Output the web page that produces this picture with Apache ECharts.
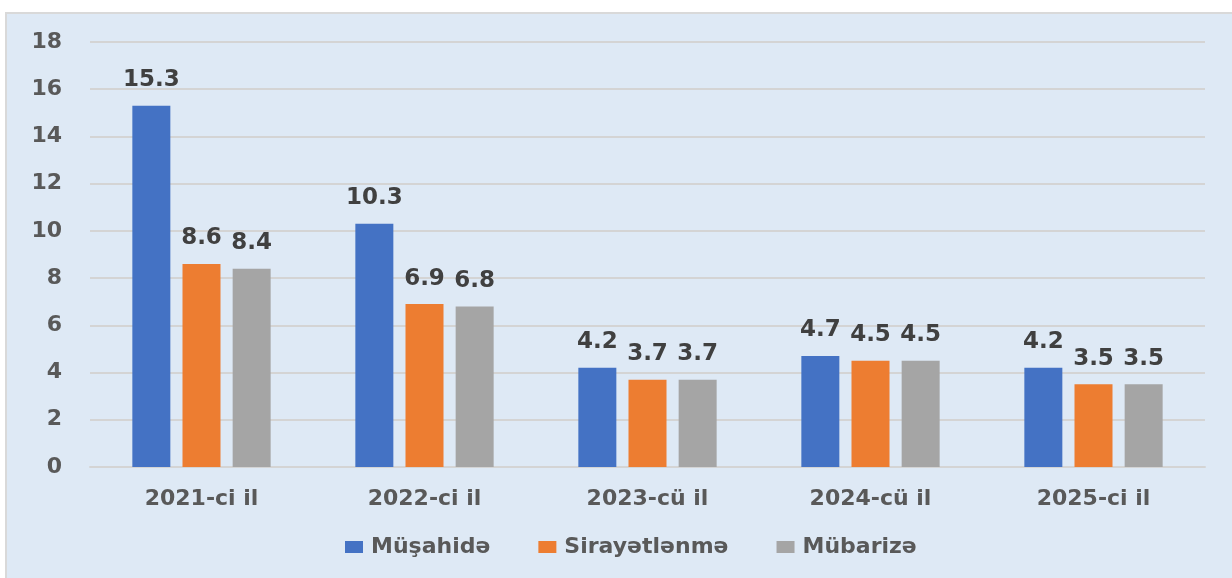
<!DOCTYPE html>
<html>
<head>
<meta charset="utf-8">
<script src="https://cdn.jsdelivr.net/npm/echarts@6/dist/echarts.min.js"></script>
<style>
  html, body { margin: 0; padding: 0; background: #fff; overflow: hidden; }
  #frame { position: absolute; left: 5px; top: 12px; width: 1232px; height: 570px;
           background: #dee9f5; border: 2px solid #d9d9d9; box-sizing: border-box; }
  #chart { width: 100%; height: 100%; }
</style>
</head>
<body>
<div id="frame"><div id="chart"></div></div>
<script>
const categories = ['2021-ci il', '2022-ci il', '2023-cü il', '2024-cü il', '2025-ci il']
const seriesNames = ['Müşahidə', 'Sirayətlənmə', 'Mübarizə']
const musahide = [15.3, 10.3, 4.2, 4.7, 4.2]
const sirayetlenme = [8.6, 6.9, 3.7, 4.5, 3.5]
const mubarize = [8.4, 6.8, 3.7, 4.5, 3.5]
const colors = ['#4472c4', '#ed7d31', '#a5a5a5']

const font = 'DejaVu Sans'
const textColor = '#595959'

let chartDom = document.getElementById('chart')
let myChart = echarts.init(chartDom)

const makeSeries = (name, data, color) => ({
  name: name,
  type: 'bar',
  data: data,
  barWidth: 38,
  barGap: '32%',
  itemStyle: { color: color },
  label: {
    show: true,
    position: 'top',
    distance: 14,
    color: '#404040',
    fontFamily: font,
    fontWeight: 'bold',
    fontSize: 23,
    formatter: p => p.value.toFixed(1)
  }
})

let options = {
  animation: false,
  color: colors,
  grid: { left: 83, right: 30, top: 28, bottom: 113 },
  legend: {
    bottom: 17,
    left: 333,
    itemWidth: 18,
    itemHeight: 12,
    itemGap: 48,
    icon: 'rect',
    textStyle: { color: textColor, fontFamily: font, fontWeight: 'bold', fontSize: 22, padding: [0, 0, 0, 3] },
    data: seriesNames
  },
  xAxis: {
    type: 'category',
    data: categories,
    axisTick: { show: false },
    axisLine: { lineStyle: { color: '#d4d4d4', width: 2 } },
    axisLabel: { color: textColor, fontFamily: font, fontWeight: 'bold', fontSize: 22, margin: 21 }
  },
  yAxis: {
    type: 'value',
    min: 0,
    max: 18,
    interval: 2,
    axisLine: { show: false },
    axisTick: { show: false },
    splitLine: { lineStyle: { color: '#d4d4d4', width: 2 } },
    axisLabel: { color: textColor, fontFamily: font, fontWeight: 'bold', fontSize: 22, margin: 28 }
  },
  series: [
    makeSeries(seriesNames[0], musahide, colors[0]),
    makeSeries(seriesNames[1], sirayetlenme, colors[1]),
    makeSeries(seriesNames[2], mubarize, colors[2])
  ]
}
myChart.setOption(options)
</script>
</body>
</html>
